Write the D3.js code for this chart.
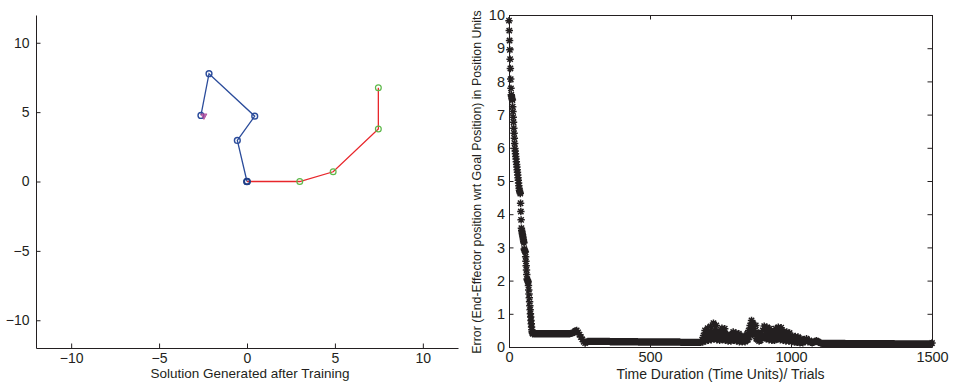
<!DOCTYPE html>
<html><head><meta charset="utf-8">
<script src="https://cdn.jsdelivr.net/npm/d3@7"></script>
<style>
body{margin:0;background:#fff}
svg text{font-family:"Liberation Sans",Arial,Helvetica,sans-serif;fill:#231f20}
</style>
</head><body>
<svg id="c" width="954" height="387"></svg>
<script>
// ---- Left plot data (arm configurations) ----
const armX = [0, -0.55, 0.44, -2.16, -2.62];
const armY = [0, 2.96, 4.71, 7.77, 4.76];
const goalArmX = [0, 3.0, 4.9, 7.47, 7.47];
const goalArmY = [0, 0, 0.7, 3.78, 6.76];
const targetX = [-2.45];
const targetY = [4.69];
const leftTicks = [-10, -5, 0, 5, 10];
const leftXLabel = "Solution Generated after Training";

// ---- Right plot data (error per trial) ----
// trials 0..84, one value per trial
const descentErrors = [
  9.83,9.53,9.23,8.95,8.67,8.39,8.07,7.79,7.60,7.55,
  7.50,7.47,7.44,7.24,7.09,6.92,6.77,6.59,6.44,6.29,
  6.13,5.98,5.90,5.82,5.74,5.66,5.58,5.50,5.42,5.34,
  5.26,5.18,5.10,5.02,4.94,4.86,4.78,4.72,4.68,4.65,
  4.62,4.33,4.08,3.83,3.58,3.52,3.47,3.42,3.38,3.33,
  3.28,3.23,3.18,3.14,2.95,2.92,2.90,2.88,2.86,2.72,
  2.58,2.45,2.32,2.18,2.05,2.02,2.00,1.98,1.96,1.85,
  1.72,1.60,1.48,1.36,1.24,1.12,1.00,0.90,0.80,0.70,
  0.60,0.52,0.46,0.42,0.40
];
// trials 85..1500, sampled every 5 trials
const laterStartTrial = 85;
const laterTrialStep = 5;
const laterErrors = [
  0.41,0.40,0.40,0.40,0.40,0.40,0.40,0.40,0.40,0.40,
  0.40,0.40,0.40,0.40,0.40,0.40,0.40,0.40,0.40,0.40,
  0.40,0.40,0.40,0.40,0.40,0.40,0.40,0.41,0.42,0.44,
  0.48,0.50,0.44,0.37,0.30,0.23,0.16,0.12,0.15,0.17,
  0.17,0.17,0.17,0.17,0.17,0.17,0.17,0.17,0.17,0.17,
  0.17,0.17,0.17,0.17,0.17,0.16,0.16,0.16,0.16,0.16,
  0.16,0.16,0.16,0.16,0.16,0.16,0.16,0.16,0.16,0.16,
  0.16,0.16,0.16,0.16,0.16,0.15,0.15,0.15,0.15,0.15,
  0.15,0.15,0.15,0.15,0.15,0.15,0.15,0.15,0.15,0.15,
  0.15,0.15,0.15,0.15,0.15,0.15,0.15,0.15,0.15,0.15,
  0.15,0.15,0.15,0.15,0.15,0.14,0.14,0.14,0.14,0.14,
  0.14,0.14,0.14,0.14,0.14,0.14,0.14,0.14,0.14,0.14,
  0.22,0.35,0.50,0.35,0.57,0.40,0.62,0.45,0.72,0.50,
  0.65,0.40,0.48,0.35,0.57,0.40,0.55,0.35,0.37,0.28,
  0.37,0.30,0.45,0.32,0.42,0.30,0.40,0.25,0.33,0.25,
  0.33,0.28,0.40,0.50,0.65,0.80,0.72,0.55,0.65,0.40,
  0.42,0.32,0.40,0.50,0.63,0.45,0.60,0.40,0.55,0.35,
  0.42,0.35,0.55,0.45,0.60,0.42,0.58,0.40,0.47,0.35,
  0.45,0.35,0.42,0.28,0.33,0.25,0.32,0.22,0.30,0.20,
  0.25,0.18,
  0.22,0.18,0.25,0.16,0.20,0.14,0.13,0.14,0.17,0.19,
  0.17,0.14,0.12,0.11,0.11,0.11,0.11,0.11,0.11,0.11,
  0.11,0.11,0.11,0.11,0.11,0.11,0.11,0.11,0.11,0.11,
  0.10,0.10,0.10,0.10,0.10,0.10,0.10,0.10,0.10,0.10,
  0.10,0.10,0.10,0.10,0.10,0.10,0.10,0.10,0.10,0.10,
  0.10,0.10,0.10,0.10,0.10,0.10,0.10,0.10,0.10,0.10,
  0.10,0.10,0.10,0.10,0.10,0.09,0.09,0.09,0.09,0.09,
  0.09,0.09,0.09,0.09,0.09,0.09,0.09,0.09,0.09,0.09,
  0.09,0.09,0.09,0.09,0.09,0.09,0.09,0.09,0.09,0.09,
  0.10,0.12
];
// extra trials in the oscillating phase: 687..1042, every 5 trials
const noisyStartTrial = 687;
const noisyTrialStep = 5;
const noisyErrors = [
  0.15,0.22,0.18,0.25,0.20,0.28,0.22,0.30,0.25,0.32,
  0.22,0.25,0.20,0.25,0.22,0.28,0.20,0.22,0.18,0.20,
  0.18,0.22,0.20,0.22,0.18,0.20,0.16,0.18,0.16,0.18,
  0.16,0.20,0.22,0.30,0.40,0.55,0.45,0.35,0.25,0.22,
  0.18,0.20,0.25,0.30,0.28,0.25,0.30,0.22,0.28,0.20,
  0.22,0.20,0.28,0.25,0.30,0.22,0.28,0.20,0.25,0.18,
  0.22,0.18,0.20,0.16,0.18,0.15,0.16,0.14,0.15,0.13,
  0.14,0.13
];
const rightXTicks = [0, 500, 1000, 1500];
const rightYTicks = [0,1,2,3,4,5,6,7,8,9,10];
const rightXLabel = "Time Duration (Time Units)/ Trials";
const rightYLabel = "Error (End-Effector position wrt Goal Position) in Position Units";

const ink = "#231f20";
const svg = d3.select("#c");

// ================= LEFT PLOT =================
const xL = d3.scaleLinear().domain([-12, 12]).range([36, 458]);
const yL = d3.scaleLinear().domain([-12, 12]).range([348, 15]);
const gL = svg.append("g");

function styleAxis(g, fs) {
  g.select(".domain").attr("stroke", ink).attr("stroke-width", 1);
  g.selectAll(".tick line").attr("stroke", ink).attr("stroke-width", 1);
  g.selectAll(".tick text").attr("font-size", fs).attr("fill", ink);
}

gL.append("g").attr("transform", "translate(0,348)")
  .call(d3.axisBottom(xL).tickValues(leftTicks).tickSizeInner(-4.5).tickSizeOuter(0).tickPadding(5))
  .call(g => styleAxis(g, "14px"));
gL.append("g").attr("transform", "translate(36,0)")
  .call(d3.axisLeft(yL).tickValues(leftTicks).tickSizeInner(-4.5).tickSizeOuter(0).tickPadding(6.5))
  .call(g => styleAxis(g, "14px"));

const goalPts = goalArmX.map((x, i) => [x, goalArmY[i]]);
const armPts = armX.map((x, i) => [x, armY[i]]);
const lineL = d3.line().x(d => xL(d[0])).y(d => yL(d[1]));

gL.append("path").attr("d", lineL(goalPts)).attr("fill", "none")
  .attr("stroke", "#e8262b").attr("stroke-width", 1.3);
gL.selectAll(".gc").data(goalPts).join("circle")
  .attr("cx", d => xL(d[0])).attr("cy", d => yL(d[1])).attr("r", 2.9)
  .attr("fill", "none").attr("stroke", "#5cb849").attr("stroke-width", 1.2);
gL.append("path").attr("d", lineL(armPts)).attr("fill", "none")
  .attr("stroke", "#2b4c9b").attr("stroke-width", 1.3);
gL.selectAll(".bc").data(armPts).join("circle")
  .attr("cx", d => xL(d[0])).attr("cy", d => yL(d[1])).attr("r", 2.9)
  .attr("fill", "none").attr("stroke", "#2b4c9b").attr("stroke-width", 1.4);
gL.append("circle").attr("cx", xL(armX[0])).attr("cy", yL(armY[0])).attr("r", 2.9)
  .attr("fill", "none").attr("stroke", "#203d88").attr("stroke-width", 1.9);
targetX.forEach((tx, i) => {
  const cx = xL(tx), cy = yL(targetY[i]);
  gL.append("path")
    .attr("d", `M${cx-3},${cy-2.5}L${cx+3},${cy-2.5}L${cx},${cy+3}Z`)
    .attr("fill", "#b0489b").attr("fill-opacity", 0.75).attr("stroke", "#b0489b").attr("stroke-width", 0.8);
});
svg.append("text").attr("x", 250).attr("y", 378).attr("text-anchor", "middle")
  .attr("font-size", "13.5px").text(leftXLabel);

// ================= RIGHT PLOT =================
const xR = d3.scaleLinear().domain([0, 1500]).range([509, 932]);
const yR = d3.scaleLinear().domain([0, 10]).range([347, 15]);
const gR = svg.append("g");

gR.append("g").attr("transform", "translate(0,347)")
  .call(d3.axisBottom(xR).tickValues(rightXTicks).tickFormat(d3.format("d")).tickSizeInner(-4.5).tickSizeOuter(0).tickPadding(5))
  .call(g => styleAxis(g, "14.5px"));
gR.append("g").attr("transform", "translate(509,0)")
  .call(d3.axisLeft(yR).tickValues(rightYTicks).tickFormat(d3.format("d")).tickSizeInner(-4.5).tickSizeOuter(0).tickPadding(4))
  .call(g => styleAxis(g, "14.5px"));
gR.append("g").attr("transform", "translate(0,15)")
  .call(d3.axisTop(xR).tickValues(rightXTicks).tickFormat("").tickSizeInner(-4.5).tickSizeOuter(0))
  .call(g => styleAxis(g, "14px"));
gR.append("g").attr("transform", "translate(932,0)")
  .call(d3.axisRight(yR).tickValues(rightYTicks).tickFormat("").tickSizeInner(-4.5).tickSizeOuter(0))
  .call(g => styleAxis(g, "14px"));

const errPts = descentErrors.map((e, i) => [i, e])
  .concat(laterErrors.map((e, i) => [laterStartTrial + i * laterTrialStep, e]))
  .concat(noisyErrors.map((e, i) => [noisyStartTrial + i * noisyTrialStep, e]));
const r = 3.7, a = r * 0.72;
let dStar = "";
errPts.forEach(p => {
  const cx = xR(p[0]), cy = yR(p[1]);
  dStar += `M${cx-r},${cy}h${2*r}M${cx},${cy-r}v${2*r}M${cx-a},${cy-a}l${2*a},${2*a}M${cx-a},${cy+a}l${2*a},${-2*a}`;
});
gR.append("path").attr("d", dStar).attr("fill", "none").attr("stroke", ink).attr("stroke-width", 1.5);

svg.append("text").attr("x", 720.5).attr("y", 379).attr("text-anchor", "middle")
  .attr("font-size", "14px").text(rightXLabel);
svg.append("text").attr("transform", "translate(481,182) rotate(-90)").attr("text-anchor", "middle")
  .attr("font-size", "12.4px").text(rightYLabel);
</script>
</body></html>
